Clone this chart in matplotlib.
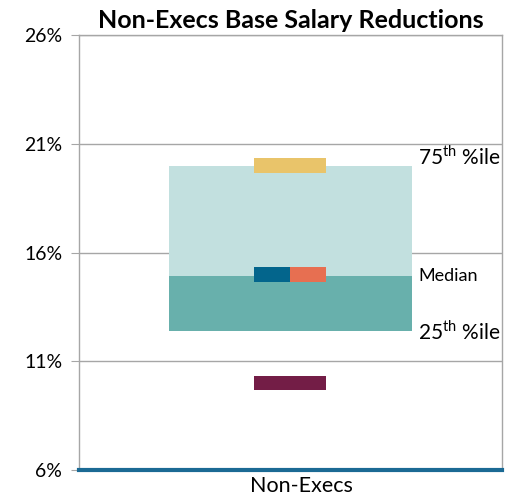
import matplotlib.pyplot as plt
import matplotlib.transforms as mtransforms

plt.rcParams['font.family'] = ['Lato', 'DejaVu Sans']
plt.rcParams['mathtext.fontset'] = 'custom'
plt.rcParams['mathtext.rm'] = 'Lato'

# data
category = ['Non-Execs']
p25 = [12.4]
median = [14.9]
p75 = [20.0]
marker_top = [20.0]      # yellow marker
marker_mid = [15.0]      # blue / orange marker
marker_low = [10.0]      # purple marker
pct_labels = ['75$^{\\rm th}$ %ile', 'Median', '25$^{\\rm th}$ %ile']
yticks = [6, 11, 16, 21, 26]

fig = plt.figure(figsize=(5.06, 5.0), dpi=100)
ax = fig.add_axes([0.156, 0.06, 0.836, 0.87])

x = range(len(category))
box_w = 0.574
mk_w = 0.17
mk_h = 0.68

# percentile box
ax.bar(x, [m - a for m, a in zip(median, p25)], bottom=p25, width=box_w,
       color='#68B0AC', zorder=2)
ax.bar(x, [b - m for b, m in zip(p75, median)], bottom=median, width=box_w,
       color='#C2E0DF', zorder=2)

# markers
ax.bar(x, mk_h, bottom=[v - mk_h / 2 for v in marker_top], width=mk_w,
       color='#E9C46A', zorder=3)
ax.bar([i - mk_w / 4 for i in x], mk_h, bottom=[v - mk_h / 2 for v in marker_mid],
       width=mk_w / 2, color='#03658C', zorder=3)
ax.bar([i + mk_w / 4 for i in x], mk_h, bottom=[v - mk_h / 2 for v in marker_mid],
       width=mk_w / 2, color='#E76F51', zorder=3)
ax.bar(x, mk_h, bottom=[v - mk_h / 2 for v in marker_low], width=mk_w,
       color='#731D46', zorder=3)

# percentile labels to the right of the box
lab_x = box_w / 2 + 0.015
ax.text(lab_x, p75[0] + 0.4, pct_labels[0], fontsize=15, va='center', ha='left')
ax.text(lab_x, median[0], pct_labels[1], fontsize=13, va='center', ha='left')
ax.text(lab_x, p25[0] - 0.05, pct_labels[2], fontsize=15, va='center', ha='left')

ax.set_xlim(-0.5, 0.5)
ax.set_ylim(6, 26)
ax.set_yticks(yticks)
ax.set_yticklabels([f'{t}%' for t in yticks], fontsize=14)
ax.set_xticks(list(x))
ax.set_xticklabels(category, fontsize=15.5)
ax.tick_params(axis='x', length=0, pad=4)
ax.tick_params(axis='y', length=6, color='#A6A6A6', pad=6)
ax.grid(axis='y', color='#A6A6A6', linewidth=1, zorder=0)

# the category label sits a little right of centre in the reference
shift = mtransforms.ScaledTranslation(11 / 100, 0, fig.dpi_scale_trans)
for lbl in ax.get_xticklabels():
    lbl.set_transform(lbl.get_transform() + shift)

for s in ['top', 'left', 'right']:
    ax.spines[s].set_color('#A6A6A6')
    ax.spines[s].set_linewidth(1)
ax.spines['bottom'].set_color('#1B6A94')
ax.spines['bottom'].set_linewidth(3)

ax.set_title('Non-Execs Base Salary Reductions', fontsize=18, fontweight='bold', pad=5)

plt.savefig('out.png', dpi=100)
